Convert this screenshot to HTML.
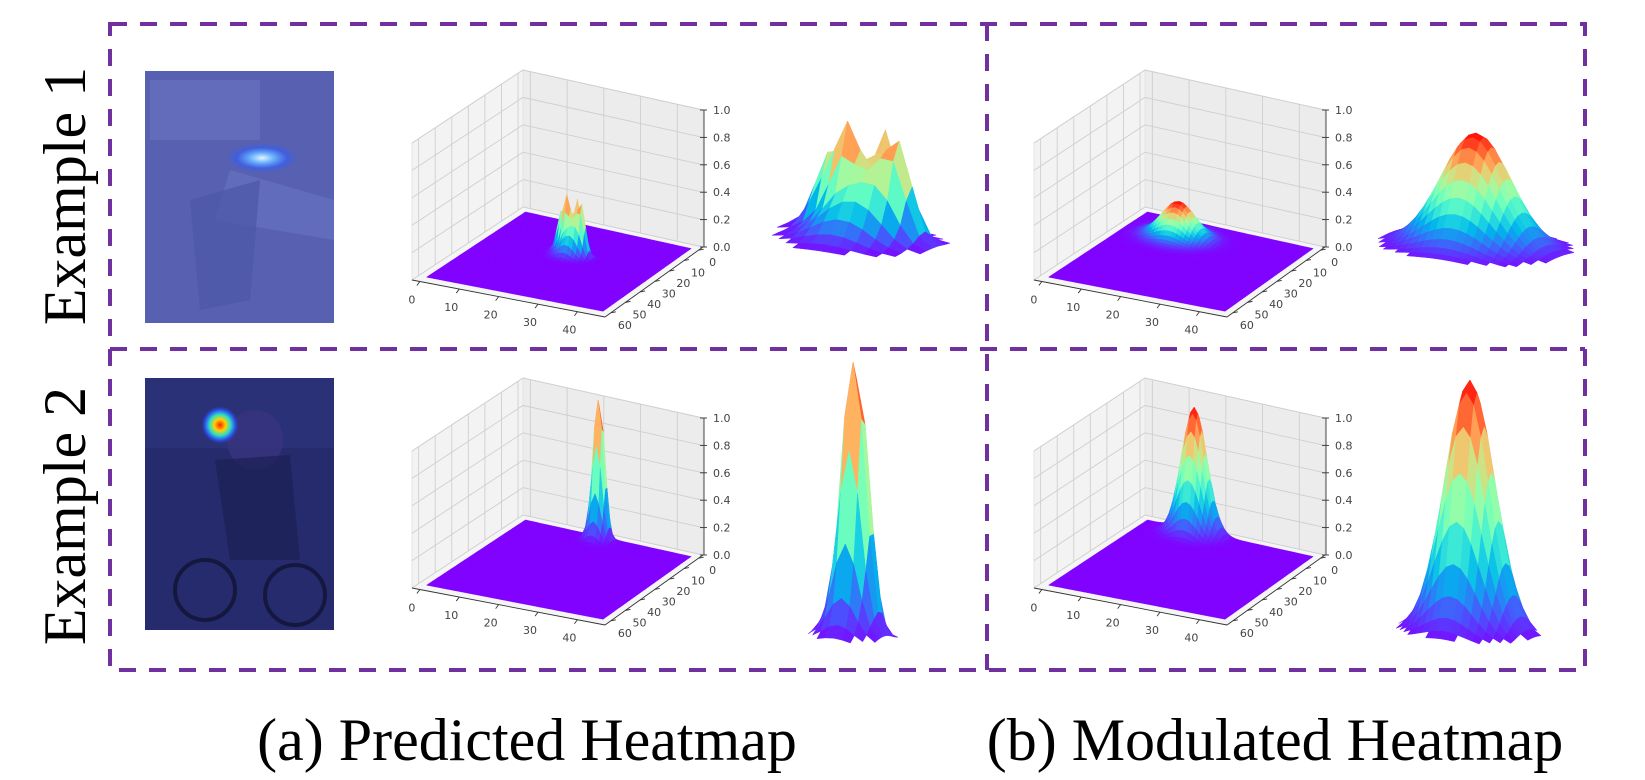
<!DOCTYPE html>
<html><head><meta charset="utf-8"><style>
html,body{margin:0;padding:0;background:#fff;}
svg{display:block;}
</style></head><body>
<svg id="fig" width="1645" height="780" viewBox="0 0 1645 780" xmlns="http://www.w3.org/2000/svg">
<defs>
<radialGradient id="blob1" cx="50%" cy="50%" r="50%">
<stop offset="0" stop-color="#e8f4ff"/><stop offset="0.3" stop-color="#6fb8ff"/><stop offset="0.7" stop-color="#3a5ee8" stop-opacity="0.8"/><stop offset="1" stop-color="#3a5ee8" stop-opacity="0"/>
</radialGradient>
<radialGradient id="blob2" cx="50%" cy="50%" r="50%">
<stop offset="0" stop-color="#ff2000"/><stop offset="0.3" stop-color="#ffd000"/><stop offset="0.55" stop-color="#30e0c0"/><stop offset="0.8" stop-color="#2a50f0"/><stop offset="1" stop-color="#2a3aa0" stop-opacity="0"/>
</radialGradient>
</defs>
<g id="images">
<g>
<rect x="145" y="71" width="189" height="252" fill="#5861b1"/>
<rect x="150" y="80" width="110" height="60" fill="#6a73c0" opacity="0.6"/>
<polygon points="230,170 334,200 334,240 215,220" fill="#6b76c6" opacity="0.55"/>
<polygon points="190,200 260,180 250,300 200,310" fill="#4d57a6" opacity="0.7"/>
<ellipse cx="262" cy="158" rx="36" ry="15" fill="url(#blob1)"/>
</g>
<g>
<rect x="145" y="378" width="189" height="252" fill="#252b6d"/>
<rect x="145" y="378" width="189" height="70" fill="#2e357c" opacity="0.7"/>
<ellipse cx="255" cy="440" rx="28" ry="30" fill="#3a3480" opacity="0.8"/>
<polygon points="215,460 290,455 300,560 230,560" fill="#1e2258" opacity="0.8"/>
<circle cx="205" cy="590" r="30" fill="none" stroke="#15183e" stroke-width="4"/>
<circle cx="295" cy="595" r="30" fill="none" stroke="#15183e" stroke-width="4"/>
<circle cx="220" cy="425" r="19" fill="url(#blob2)"/>
</g>
</g>
<g id="plots"></g>
<g id="border" fill="none" stroke="#7030a0" stroke-width="4" stroke-dasharray="17 13">
<rect x="110" y="24" width="1475" height="646"/>
<line x1="110" y1="349" x2="1585" y2="349"/>
<line x1="987" y1="24" x2="987" y2="670"/>
</g>
<g font-family="'Liberation Serif', 'Times New Roman', serif" fill="#000">
<text x="0" y="0" font-size="60" text-anchor="middle" transform="translate(85,196) rotate(-90)">Example 1</text>
<text x="0" y="0" font-size="60" text-anchor="middle" transform="translate(85,516) rotate(-90)">Example 2</text>
<text x="527" y="760" font-size="60" text-anchor="middle">(a) Predicted Heatmap</text>
<text x="1275" y="760" font-size="60" text-anchor="middle">(b) Modulated Heatmap</text>
</g>
</svg>
<script>
// ---- data ----
const xTicks = [0, 10, 20, 30, 40];
const yTicks = [0, 10, 20, 30, 40, 50, 60];
const zTicks = [0, 0.2, 0.4, 0.6, 0.8, 1.0];
const zTickLabels = ["0.0", "0.2", "0.4", "0.6", "0.8", "1.0"];
// Gaussian components per heatmap
const predEx1X = [19, 21, 23, 25, 22, 20, 24];
const predEx1Y = [22, 23, 21, 23, 25, 20, 24];
const predEx1Amp = [0.22, 0.3, 0.34, 0.26, 0.15, 0.12, 0.14];
const predEx1Sig = [1.0, 0.9, 0.9, 1.0, 2.0, 1.5, 1.5];
const modEx1X = [14];
const modEx1Y = [13];
const modEx1Amp = [0.26];
const modEx1Sig = [4.2];
const predEx2X = [21, 20, 22, 21];
const predEx2Y = [3, 2, 2, 4];
const predEx2Amp = [0.55, 0.35, 0.35, 0.25];
const predEx2Sig = [1.2, 1.0, 1.0, 1.8];
const modEx2X = [14];
const modEx2Y = [3];
const modEx2Amp = [0.93];
const modEx2Sig = [3.2];

const NS = "http://www.w3.org/2000/svg";
const root = document.getElementById('plots');
function mk(tag, attrs, parent) {
  const e = document.createElementNS(NS, tag);
  for (const k in attrs) e.setAttribute(k, attrs[k]);
  parent.appendChild(e);
  return e;
}
function cmap(t) {
  t = Math.max(0, Math.min(1, t));
  const r = Math.min(1, Math.abs(2 * t - 0.5)), g = Math.sin(Math.PI * t), b = Math.cos(Math.PI * t / 2);
  return 'rgb(' + Math.round(r * 255) + ',' + Math.round(g * 255) + ',' + Math.round(b * 255) + ')';
}
function makeZ(X, Y, A, S) {
  return function (x, y) {
    let z = 0;
    for (let i = 0; i < X.length; i++) {
      const dx = x - X[i], dy = y - Y[i];
      z += A[i] * Math.exp(-(dx * dx + dy * dy) / (2 * S[i] * S[i]));
    }
    return z;
  };
}
const NX = 45, NY = 60;
function zmaxOf(zf) {
  let m = 0;
  for (let i = 0; i <= NX; i++) for (let j = 0; j <= NY; j++) m = Math.max(m, zf(i, j));
  return m;
}

// small 3D axes
const B = [523, 207], R = [703, 247], L = [412, 280], F = [605, 317];
const xmin = -2, xmax = 47, ymin = -3, ymax = 64, ZH = 137;
function drawAxes3d(ox, oy, zf, name) {
  const g = mk('g', {}, root);
  
  
  function fp(x, y, z) {
    const u = (x - xmin) / (xmax - xmin), v = (y - ymin) / (ymax - ymin);
    const px = B[0] + u * (R[0] - B[0]) + v * (L[0] - B[0]) + u * v * (F[0] - R[0] - L[0] + B[0]);
    const py = B[1] + u * (R[1] - B[1]) + v * (L[1] - B[1]) + u * v * (F[1] - R[1] - L[1] + B[1]);
    return [px + ox, py + oy - z * ZH];
  }
  const P = a => a.map(p => p[0].toFixed(1) + ',' + p[1].toFixed(1)).join(' ');
  const lw = mk('polygon', { points: P([fp(xmin, ymax, 0), fp(xmin, ymin, 0), fp(xmin, ymin, 1), fp(xmin, ymax, 1)]), fill: '#f3f3f3', stroke: '#e4e4e4', 'stroke-width': 1 }, g);
  
  
  const rw = mk('polygon', { points: P([fp(xmin, ymin, 0), fp(xmax, ymin, 0), fp(xmax, ymin, 1), fp(xmin, ymin, 1)]), fill: '#ececec', stroke: '#e4e4e4', 'stroke-width': 1 }, g);
  
  
  mk('polygon', { points: P([fp(xmin, ymin, 0), fp(xmax, ymin, 0), fp(xmax, ymax, 0), fp(xmin, ymax, 0)]), fill: '#f5f5f5' }, g);
  const gl = { stroke: '#cfcfcf', 'stroke-width': 0.9 };
  yTicks.forEach(t => { const a = fp(xmin, t, 0), b = fp(xmin, t, 1); mk('line', Object.assign({ x1: a[0], y1: a[1], x2: b[0], y2: b[1] }, gl), g); });
  xTicks.forEach(t => { const a = fp(t, ymin, 0), b = fp(t, ymin, 1); mk('line', Object.assign({ x1: a[0], y1: a[1], x2: b[0], y2: b[1] }, gl), g); });
  zTicks.forEach(t => {
    let a = fp(xmin, ymax, t), b = fp(xmin, ymin, t), c = fp(xmax, ymin, t);
    mk('polyline', Object.assign({ points: P([a, b, c]), fill: 'none' }, gl), g);
  });
  const zm = zmaxOf(zf);
  const cells = [];
  for (let i = 0; i < NX; i++) for (let j = 0; j < NY; j++) cells.push([i, j]);
  cells.sort((a, b) => (a[0] + a[1]) - (b[0] + b[1]));
  const sg = mk('g', {}, g);
  
  
  cells.forEach(([i, j]) => {
    const z00 = zf(i, j), z10 = zf(i + 1, j), z11 = zf(i + 1, j + 1), z01 = zf(i, j + 1);
    const col = cmap(((z00 + z10 + z11 + z01) / 4) / zm);
    mk('polygon', { points: P([fp(i, j, z00), fp(i + 1, j, z10), fp(i + 1, j + 1, z11), fp(i, j + 1, z01)]), fill: col, stroke: col, 'stroke-width': 0.4 }, sg);
  });
  const ax = { stroke: '#333', 'stroke-width': 0.9 };
  let a = fp(xmin, ymax, 0), b = fp(xmax, ymax, 0);
  mk('line', Object.assign({ x1: a[0], y1: a[1], x2: b[0], y2: b[1] }, ax), g);
  a = fp(xmax, ymax, 0); b = fp(xmax, ymin, 0);
  mk('line', Object.assign({ x1: a[0], y1: a[1], x2: b[0], y2: b[1] }, ax), g);
  a = fp(xmax, ymin, 0); b = fp(xmax, ymin, 1);
  mk('line', Object.assign({ x1: a[0] + 1, y1: a[1], x2: b[0] + 1, y2: b[1] }, ax), g);
  const lab = { 'font-family': "'DejaVu Sans', sans-serif", 'font-size': 11, fill: '#444' };
  xTicks.forEach(t => {
    const p = fp(t, ymax, 0);
    mk('line', Object.assign({ x1: p[0], y1: p[1], x2: p[0] - 3, y2: p[1] + 4 }, ax), g);
    const tx = mk('text', Object.assign({ x: p[0] - 8, y: p[1] + 22, 'text-anchor': 'middle' }, lab), g);
    tx.textContent = t;
  });
  yTicks.forEach(t => {
    const p = fp(xmax, t, 0);
    mk('line', Object.assign({ x1: p[0], y1: p[1], x2: p[0] + 5, y2: p[1] - 1 }, ax), g);
    const tx = mk('text', Object.assign({ x: p[0] + 14, y: p[1] + 16, 'text-anchor': 'middle' }, lab), g);
    tx.textContent = t;
  });
  zTicks.forEach((t, k) => {
    const p = fp(xmax, ymin, t);
    mk('line', Object.assign({ x1: p[0] - 3, y1: p[1], x2: p[0] + 4, y2: p[1] }, ax), g);
    const tx = mk('text', Object.assign({ x: p[0] + 10, y: p[1] + 4, 'text-anchor': 'start', 'font-size': 10 }, lab), g);
    tx.textContent = zTickLabels[k];
  });
}

// large close-up surface views
const EX = [4, 0.5], EY = [-1.85, 0.6];
function drawCloseup(box, zf, X, Y, name) {
  const g = mk('g', {}, root);
  
  
  const zm = zmaxOf(zf);
  let cx = 0, cy = 0;
  X.forEach(v => cx += v); Y.forEach(v => cy += v); cx /= X.length; cy /= Y.length;
  const cells = [];
  let minA = 1e9, maxA = -1e9, minD = 1e9, maxD = -1e9;
  for (let i = 0; i < NX; i++) for (let j = 0; j < NY; j++) {
    const zs = [zf(i, j), zf(i + 1, j), zf(i + 1, j + 1), zf(i, j + 1)];
    if (Math.max(...zs) < 0.04 * zm) continue;
    const pts = [[i, j], [i + 1, j], [i + 1, j + 1], [i, j + 1]].map(([x, y], k) => {
      const a = (x - cx) * EX[0] + (y - cy) * EY[0], d = (x - cx) * EX[1] + (y - cy) * EY[1];
      minA = Math.min(minA, a); maxA = Math.max(maxA, a); minD = Math.min(minD, d); maxD = Math.max(maxD, d);
      return [a, d, zs[k] / zm];
    });
    const depth = (i + 0.5 - cx) * EX[1] + (j + 0.5 - cy) * EY[1];
    cells.push({ pts, depth, t: (zs[0] + zs[1] + zs[2] + zs[3]) / 4 / zm });
  }
  const k = (box[2] - box[0]) / (maxA - minA);
  const H = (box[3] - box[1]) - (maxD - minD) * k;
  // first pass: raw screen y, then fit vertically into box
  let yLo = 1e9, yHi = -1e9;
  cells.forEach(c => c.pts.forEach(([a, d, zn]) => {
    const y = (d - minD) * k - zn * H;
    yLo = Math.min(yLo, y); yHi = Math.max(yHi, y);
  }));
  const ys = (box[3] - box[1]) / (yHi - yLo);
  cells.sort((a, b) => a.depth - b.depth);
  cells.forEach(c => {
    const col = cmap(c.t);
    const pts = c.pts.map(([a, d, zn]) => (box[0] + (a - minA) * k).toFixed(1) + ',' + (box[1] + ((d - minD) * k - zn * H - yLo) * ys).toFixed(1)).join(' ');
    mk('polygon', { points: pts, fill: col, stroke: col, 'stroke-width': 0.5 }, g);
  });
}

const zPE1 = makeZ(predEx1X, predEx1Y, predEx1Amp, predEx1Sig);
const zME1 = makeZ(modEx1X, modEx1Y, modEx1Amp, modEx1Sig);
const zPE2 = makeZ(predEx2X, predEx2Y, predEx2Amp, predEx2Sig);
const zME2 = makeZ(modEx2X, modEx2Y, modEx2Amp, modEx2Sig);

drawAxes3d(0, 0, zPE1, 'predicted-heatmap-example-1-3d');
drawAxes3d(622, 0, zME1, 'modulated-heatmap-example-1-3d');
drawAxes3d(0, 308, zPE2, 'predicted-heatmap-example-2-3d');
drawAxes3d(622, 308, zME2, 'modulated-heatmap-example-2-3d');
drawCloseup([772, 121, 950, 257], zPE1, predEx1X, predEx1Y, 'predicted-heatmap-example-1-closeup');
drawCloseup([1378, 133, 1574, 267], zME1, modEx1X, modEx1Y, 'modulated-heatmap-example-1-closeup');
drawCloseup([808, 362, 898, 643], zPE2, predEx2X, predEx2Y, 'predicted-heatmap-example-2-closeup');
drawCloseup([1396, 380, 1541, 644], zME2, modEx2X, modEx2Y, 'modulated-heatmap-example-2-closeup');
</script>
</body></html>
